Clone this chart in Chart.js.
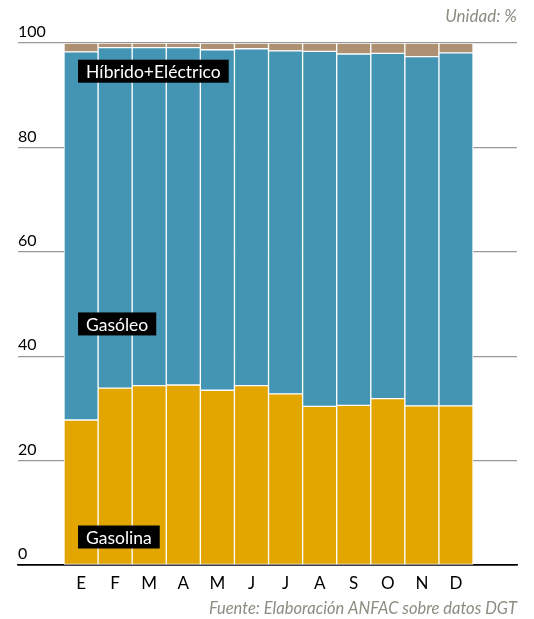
<!DOCTYPE html>
<html>
<head>
<meta charset="utf-8">
<script src="https://cdn.jsdelivr.net/npm/chart.js@4"></script>
<style>
  html, body { margin: 0; padding: 0; background: #fff; }
  #wrap { width: 534px; height: 619px; }
</style>
</head>
<body>
<div id="wrap"><canvas id="c" width="534" height="619"></canvas></div>
<script>
// Months (categories)
const months = ['E', 'F', 'M', 'A', 'M', 'J', 'J', 'A', 'S', 'O', 'N', 'D'];
// Series values (%)
const gasolina = [27.8, 33.9, 34.4, 34.5, 33.5, 34.4, 32.8, 30.4, 30.6, 31.9, 30.5, 30.5];
const gasoleo  = [70.5, 65.2, 64.7, 64.6, 65.2, 64.5, 65.7, 68.0, 67.3, 66.1, 66.9, 67.6];
const hibridoElectrico = [1.7, 0.9, 0.9, 0.9, 1.3, 1.1, 1.5, 1.6, 2.1, 2.0, 2.6, 1.9];
// Y tick labels
const yTicks = [0, 20, 40, 60, 80, 100];
// Series names
const seriesNames = ['Gasolina', 'Gasóleo', 'Híbrido+Eléctrico'];
// Label anchors (value on y axis where each series' name box sits)
const labelValues = [5.4, 46.2, 94.6];

const FONT = 'Lato, "Open Sans", sans-serif';

const toPoints = arr => arr.map((v, i) => ({ x: i, y: v }));

const seriesLabels = {
  id: 'seriesLabels',
  afterDatasetsDraw(chart) {
    const { ctx, scales: { x, y } } = chart;
    ctx.save();
    ctx.font = '17.5px ' + FONT;
    ctx.textBaseline = 'middle';
    ctx.textAlign = 'left';
    seriesNames.forEach((name, i) => {
      const left = x.getPixelForValue(-0.5) + 14;
      const cy = y.getPixelForValue(labelValues[i]);
      const w = ctx.measureText(name).width + 16;
      const h = 23;
      ctx.fillStyle = '#000';
      ctx.fillRect(left, cy - h / 2, w, h);
      ctx.fillStyle = '#fff';
      ctx.fillText(name, left + 8, cy + 1);
    });
    ctx.restore();
  }
};

new Chart(document.getElementById('c'), {
  type: 'bar',
  data: {
    datasets: [
      { label: seriesNames[0], data: toPoints(gasolina), backgroundColor: '#E3A500' },
      { label: seriesNames[1], data: toPoints(gasoleo), backgroundColor: '#4494B4' },
      { label: seriesNames[2], data: toPoints(hibridoElectrico), backgroundColor: '#AE9072' }
    ].map(d => Object.assign(d, {
      borderColor: '#fff', borderWidth: 1, borderSkipped: false,
      barPercentage: 1, categoryPercentage: 1
    }))
  },
  options: {
    responsive: false,
    animation: false,
    layout: { padding: { left: 18, right: 17, top: 6, bottom: 0 } },
    plugins: {
      legend: { display: false },
      tooltip: { enabled: false },
      title: {
        display: true, text: 'Unidad: %', align: 'end', position: 'top',
        color: '#8c8c80',
        font: { family: FONT, size: 17, style: 'italic', weight: 'normal', lineHeight: 1.2 },
        padding: { top: 0, bottom: 16.6 }
      },
      subtitle: {
        display: true, text: 'Fuente: Elaboración ANFAC sobre datos DGT', align: 'end', position: 'bottom',
        color: '#8c8c80',
        font: { family: FONT, size: 16.5, style: 'italic', weight: 'normal', lineHeight: 1.2 },
        padding: { top: 7, bottom: 0 }
      }
    },
    scales: {
      x: {
        type: 'linear',
        stacked: true,
        offset: false,
        min: -1.85,
        max: 12.79,
        grid: { display: false, drawTicks: false },
        border: { display: true, color: '#000', width: 1.5 },
        afterBuildTicks: s => { s.ticks = months.map((m, i) => ({ value: i })); },
        afterFit: s => { s.height = 27; },
        ticks: {
          autoSkip: false, maxRotation: 0,
          padding: 8,
          color: '#000',
          font: { family: FONT, size: 17 },
          callback: v => months[v]
        }
      },
      y: {
        stacked: true,
        min: 0, max: 100,
        afterBuildTicks: s => { s.ticks = yTicks.map(v => ({ value: v })); },
        grid: {
          drawTicks: false,
          color: c => c.tick && c.tick.value === 0 ? '#000' : '#999',
          lineWidth: c => c.tick && c.tick.value === 0 ? 1.5 : 1.2
        },
        border: { display: false },
        ticks: {
          mirror: true, padding: 0, labelOffset: -11,
          color: '#000',
          font: { family: FONT, size: 16 }
        }
      }
    }
  },
  plugins: [seriesLabels]
});
</script>
</body>
</html>
